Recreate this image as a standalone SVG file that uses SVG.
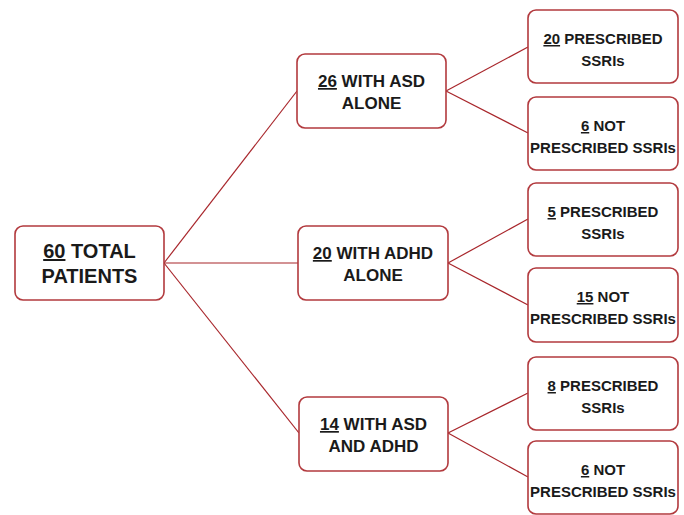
<svg xmlns="http://www.w3.org/2000/svg" width="684" height="515" viewBox="0 0 684 515">
<style>
.box{fill:#fff;stroke:#b23a3e;stroke-width:1.6}
.c{stroke:#a8262b;stroke-width:1.2;fill:none}
text{font-family:"Liberation Sans",Arial,sans-serif;font-weight:bold;fill:#1a1a1a;text-anchor:middle}
.l{font-size:20px}
.m{font-size:17px}
.s{font-size:15px}
.u{text-decoration:underline}
</style>
<rect width="684" height="515" fill="#fff"/>
<g id="connectors">
<line class="c" x1="164" y1="263" x2="297" y2="91"/>
<line class="c" x1="164" y1="263" x2="298" y2="263"/>
<line class="c" x1="164" y1="263" x2="299" y2="433"/>
<line class="c" x1="446" y1="91" x2="528" y2="47"/>
<line class="c" x1="446" y1="91" x2="528" y2="133"/>
<line class="c" x1="448" y1="263" x2="528" y2="219"/>
<line class="c" x1="448" y1="263" x2="528" y2="305"/>
<line class="c" x1="448" y1="433" x2="528" y2="393"/>
<line class="c" x1="448" y1="433" x2="528" y2="477"/>
</g>
<g id="root">
<rect class="box" x="15" y="226" width="149" height="74" rx="8"/>
<text class="l" x="89.5" y="258"><tspan class="u">60</tspan> TOTAL</text>
<text class="l" x="89.5" y="283">PATIENTS</text>
</g>
<g id="asd">
<rect class="box" x="297" y="54" width="149" height="74" rx="8"/>
<text class="m" x="371.5" y="87"><tspan class="u">26</tspan> WITH ASD</text>
<text class="m" x="371.5" y="109">ALONE</text>
</g>
<g id="adhd">
<rect class="box" x="298" y="226" width="150" height="74" rx="8"/>
<text class="m" x="373" y="259"><tspan class="u">20</tspan> WITH ADHD</text>
<text class="m" x="373" y="281">ALONE</text>
</g>
<g id="both">
<rect class="box" x="299" y="397" width="149" height="74" rx="8"/>
<text class="m" x="373.5" y="430"><tspan class="u">14</tspan> WITH ASD</text>
<text class="m" x="373.5" y="452">AND ADHD</text>
</g>
<g id="asd-yes">
<rect class="box" x="528" y="10" width="150" height="73" rx="8"/>
<text class="s" x="603" y="44"><tspan class="u">20</tspan> PRESCRIBED</text>
<text class="s" x="603" y="66">SSRIs</text>
</g>
<g id="asd-no">
<rect class="box" x="528" y="97" width="150" height="73" rx="8"/>
<text class="s" x="603" y="131"><tspan class="u">6</tspan> NOT</text>
<text class="s" x="603" y="153">PRESCRIBED SSRIs</text>
</g>
<g id="adhd-yes">
<rect class="box" x="528" y="183" width="150" height="73" rx="8"/>
<text class="s" x="603" y="217"><tspan class="u">5</tspan> PRESCRIBED</text>
<text class="s" x="603" y="239">SSRIs</text>
</g>
<g id="adhd-no">
<rect class="box" x="528" y="268" width="150" height="74" rx="8"/>
<text class="s" x="603" y="302"><tspan class="u">15</tspan> NOT</text>
<text class="s" x="603" y="324">PRESCRIBED SSRIs</text>
</g>
<g id="both-yes">
<rect class="box" x="528" y="357" width="150" height="73" rx="8"/>
<text class="s" x="603" y="391"><tspan class="u">8</tspan> PRESCRIBED</text>
<text class="s" x="603" y="413">SSRIs</text>
</g>
<g id="both-no">
<rect class="box" x="528" y="441" width="150" height="73" rx="8"/>
<text class="s" x="603" y="475"><tspan class="u">6</tspan> NOT</text>
<text class="s" x="603" y="497">PRESCRIBED SSRIs</text>
</g>
</svg>
